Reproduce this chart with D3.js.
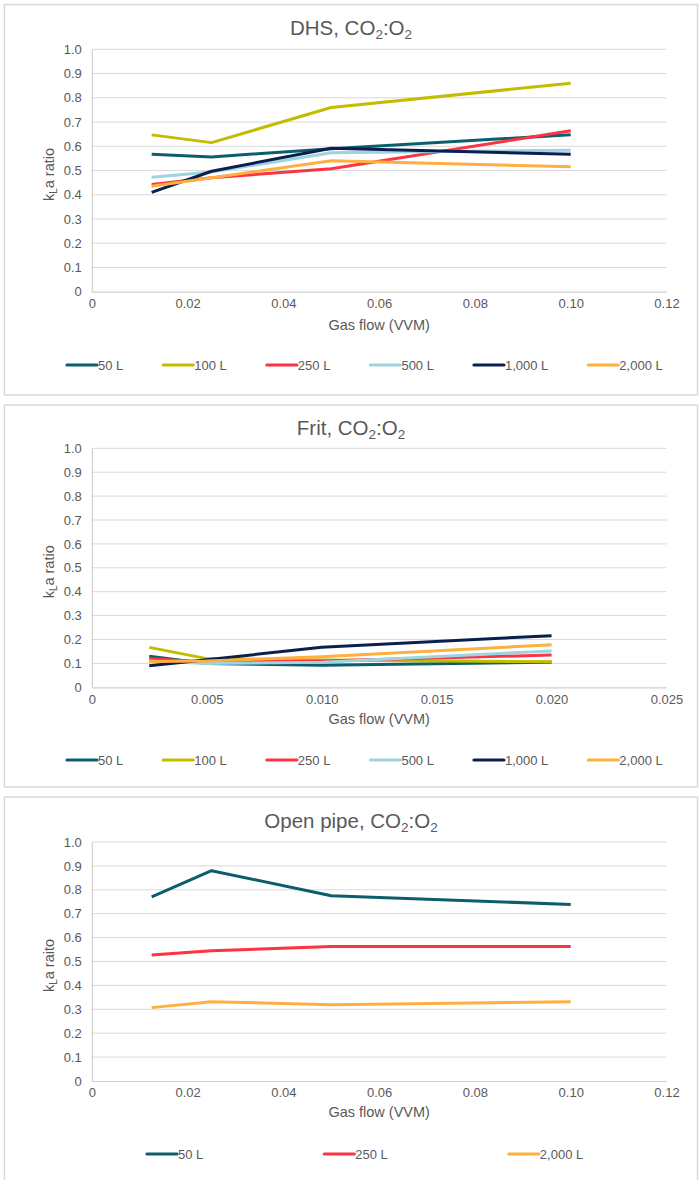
<!DOCTYPE html>
<html>
<head>
<meta charset="utf-8">
<script src="https://cdn.jsdelivr.net/npm/d3@7"></script>
<style>
  html, body { margin: 0; padding: 0; background: #ffffff; }
  svg { display: block; font-family: "Liberation Sans", Arial, Helvetica, sans-serif; }
</style>
</head>
<body>
<svg id="chart" width="699" height="1180"></svg>
<script>
// Gas flow positions (VVM)
const xDHS = [0.0125, 0.025, 0.05, 0.1];
const xFrit = [0.0025, 0.005, 0.01, 0.02];
const xOpen = [0.0125, 0.025, 0.05, 0.1];

// kLa ratio, DHS sparger
const dhs50 = [0.567, 0.556, 0.59, 0.647];
const dhs100 = [0.647, 0.615, 0.76, 0.86];
const dhs250 = [0.442, 0.47, 0.507, 0.664];
const dhs500 = [0.472, 0.494, 0.573, 0.584];
const dhs1000 = [0.41, 0.497, 0.592, 0.567];
const dhs2000 = [0.435, 0.47, 0.54, 0.515];

// kLa ratio, frit sparger
const frit50 = [0.13, 0.1, 0.092, 0.105];
const frit100 = [0.167, 0.12, 0.114, 0.107];
const frit250 = [0.12, 0.105, 0.11, 0.135];
const frit500 = [0.11, 0.1, 0.105, 0.152];
const frit1000 = [0.09, 0.115, 0.168, 0.216];
const frit2000 = [0.108, 0.11, 0.128, 0.178];

// kLa ratio, open pipe
const open50 = [0.77, 0.88, 0.775, 0.739];
const open250 = [0.527, 0.545, 0.563, 0.563];
const open2000 = [0.307, 0.332, 0.319, 0.332];

// Axis ticks
const yTicks = [0, 0.1, 0.2, 0.3, 0.4, 0.5, 0.6, 0.7, 0.8, 0.9, 1.0];
const xTicksWide = [0, 0.02, 0.04, 0.06, 0.08, 0.10, 0.12];
const xTicksFrit = [0, 0.005, 0.010, 0.015, 0.020, 0.025];

const volumes = ["50 L", "100 L", "250 L", "500 L", "1,000 L", "2,000 L"];
const colors = {
  "50 L": "#0b5e6c",
  "100 L": "#c2bd00",
  "250 L": "#fb3342",
  "500 L": "#9fd3e0",
  "1,000 L": "#0a1f4e",
  "2,000 L": "#fdb03f"
};

const panels = [
  {
    name: "DHS", ylab: "ratio", x: xDHS, xTicks: xTicksWide, xMax: 0.12, xFmt: d3.format(".2f"),
    series: [["50 L", dhs50], ["100 L", dhs100], ["250 L", dhs250], ["500 L", dhs500], ["1,000 L", dhs1000], ["2,000 L", dhs2000]],
    top: 4.5, bottom: 395, titleY: 35, plotTop: 49.3, plotBottom: 291.7, axisTitleY: 330, legendY: 365, legendX: 67, legendGap: 40
  },
  {
    name: "Frit", ylab: "ratio", x: xFrit, xTicks: xTicksFrit, xMax: 0.025, xFmt: d3.format(".3f"),
    series: [["50 L", frit50], ["100 L", frit100], ["250 L", frit250], ["500 L", frit500], ["1,000 L", frit1000], ["2,000 L", frit2000]],
    top: 405, bottom: 787, titleY: 435, plotTop: 448.3, plotBottom: 687.3, axisTitleY: 724, legendY: 760, legendX: 67, legendGap: 40
  },
  {
    name: "Open pipe", ylab: "raito", x: xOpen, xTicks: xTicksWide, xMax: 0.12, xFmt: d3.format(".2f"),
    series: [["50 L", open50], ["250 L", open250], ["2,000 L", open2000]],
    top: 797, bottom: 1200, titleY: 828, plotTop: 842, plotBottom: 1081, axisTitleY: 1117, legendY: 1154, legendX: 147, legendGap: 121
  }
];

const svg = d3.select("#chart");
const textColor = "#595959";
const left = 91.8, right = 666.5;

panels.forEach(p => {
  const g = svg.append("g");

  // Panel frame
  g.append("rect")
    .attr("x", 4.5).attr("y", p.top)
    .attr("width", 693).attr("height", p.bottom - p.top)
    .attr("fill", "#fff").attr("stroke", "#d9d9d9").attr("stroke-width", 1.5);

  const x = d3.scaleLinear().domain([0, p.xMax]).range([left, right]);
  const y = d3.scaleLinear().domain([0, 1]).range([p.plotBottom, p.plotTop]);

  // Title with subscripts
  const t = g.append("text")
    .attr("x", 351).attr("y", p.titleY)
    .attr("text-anchor", "middle")
    .attr("font-size", 20.5).attr("fill", textColor);
  t.append("tspan").text(p.name + ", CO");
  t.append("tspan").attr("font-size", 13.5).attr("dy", 4).text("2");
  t.append("tspan").attr("dy", -4).text(":O");
  t.append("tspan").attr("font-size", 13.5).attr("dy", 4).text("2");

  // Horizontal gridlines
  g.append("g").selectAll("line")
    .data(yTicks.filter(d => d > 0))
    .join("line")
    .attr("x1", left).attr("x2", right)
    .attr("y1", d => y(d)).attr("y2", d => y(d))
    .attr("stroke", "#d9d9d9").attr("stroke-width", 1);

  // Y axis
  const yAxis = g.append("g")
    .attr("transform", `translate(${left},0)`)
    .call(d3.axisLeft(y).tickValues(yTicks).tickSize(0).tickPadding(10)
      .tickFormat(d => d === 0 ? "0" : d3.format(".1f")(d)));
  yAxis.select(".domain").attr("stroke", "#d0d0d0").attr("stroke-width", 1.2);
  yAxis.selectAll("text").attr("font-size", 13).attr("fill", textColor)
    .attr("font-family", "Liberation Sans, Arial, sans-serif");

  // X axis
  const xAxis = g.append("g")
    .attr("transform", `translate(0,${p.plotBottom})`)
    .call(d3.axisBottom(x).tickValues(p.xTicks).tickSize(0).tickPadding(7)
      .tickFormat(d => d === 0 ? "0" : p.xFmt(d)));
  xAxis.select(".domain").attr("stroke", "#d0d0d0").attr("stroke-width", 1.2);
  xAxis.selectAll("text").attr("font-size", 13).attr("fill", textColor)
    .attr("font-family", "Liberation Sans, Arial, sans-serif");

  // Axis titles
  g.append("text")
    .attr("x", (left + right) / 2).attr("y", p.axisTitleY)
    .attr("text-anchor", "middle")
    .attr("font-size", 14.5).attr("fill", textColor)
    .text("Gas flow (VVM)");

  const yl = g.append("text")
    .attr("transform", `translate(54,${(p.plotTop + p.plotBottom) / 2 + 4}) rotate(-90)`)
    .attr("text-anchor", "middle")
    .attr("font-size", 14.5).attr("fill", textColor);
  yl.append("tspan").text("k");
  yl.append("tspan").attr("font-size", 10).attr("dy", 3).text("L");
  yl.append("tspan").attr("dy", -3).text("a " + p.ylab);

  // Series lines
  const line = d3.line().x(d => x(d[0])).y(d => y(d[1]));
  p.series.forEach(([name, vals]) => {
    g.append("path")
      .datum(p.x.map((xv, i) => [xv, vals[i]]))
      .attr("d", line)
      .attr("fill", "none")
      .attr("stroke", colors[name])
      .attr("stroke-width", 3)
      .attr("stroke-linejoin", "round");
  });

  // Legend
  let lx = p.legendX;
  p.series.forEach(([name]) => {
    const item = g.append("g").attr("transform", `translate(${lx},${p.legendY})`);
    item.append("line")
      .attr("x1", 0).attr("x2", 30).attr("y1", 0).attr("y2", 0)
      .attr("stroke", colors[name]).attr("stroke-width", 3.2)
      .attr("stroke-linecap", "round");
    const txt = item.append("text")
      .attr("x", 31).attr("y", 4.8)
      .attr("font-size", 13).attr("fill", textColor)
      .text(name);
    lx += 31 + txt.node().getComputedTextLength() + p.legendGap;
  });
});
</script>
</body>
</html>
